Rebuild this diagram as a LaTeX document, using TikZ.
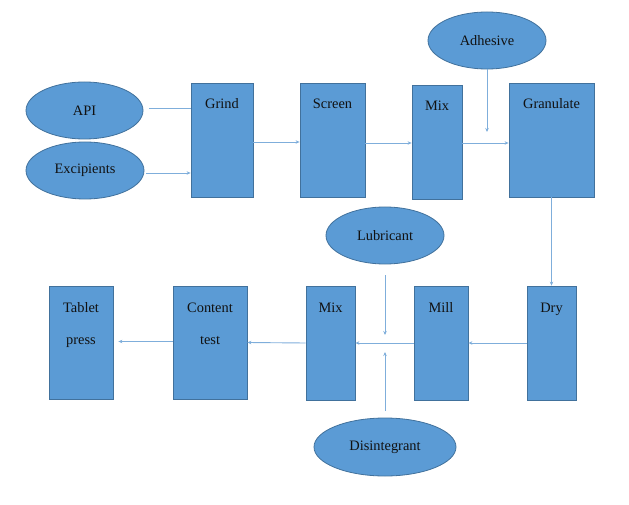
\documentclass[tikz,border=0pt]{standalone}
\usepackage{fontspec}
\setmainfont{Liberation Serif}
\usetikzlibrary{arrows.meta,calc,shapes.geometric}
\definecolor{boxfill}{HTML}{5B9BD5}
\definecolor{boxline}{HTML}{41719C}
\definecolor{arrcol}{HTML}{7FAEDB}
\definecolor{txt}{HTML}{111111}
\begin{document}
\begin{tikzpicture}[x=1bp,y=-1bp,
  box/.style={draw=boxline,fill=boxfill,line width=0.8bp,inner sep=0pt,rectangle},
  oval/.style={draw=boxline,fill=boxfill,line width=0.8bp,ellipse,inner sep=0pt,
    font=\fontsize{14.4bp}{17bp}\selectfont,text=txt},
  lbl/.style={font=\fontsize{14.4bp}{32bp}\selectfont,text=txt,align=center,inner sep=0pt},
  arr/.style={draw=arrcol,line width=0.9bp,-{Stealth[length=4bp,width=3.5bp]}},
  ln/.style={draw=arrcol,line width=0.9bp}]
\useasboundingbox (0,0) rectangle (629,505);
% ellipses
\node[oval,minimum width=117bp,minimum height=57bp] (api) at (84.5,110.5) {API};
\node[oval,minimum width=118bp,minimum height=57bp] (exc) at (85,170.5) {Excipients};
\node[oval,minimum width=118bp,minimum height=57bp] (adh) at (487,40.5) {Adhesive};
\node[oval,minimum width=118bp,minimum height=57bp] (lub) at (385,235.5) {Lubricant};
\node[oval,minimum width=142bp,minimum height=58bp] (dis) at (385,447) {Disintegrant};
% boxes
\node[box,minimum width=62bp,minimum height=114bp] (grind) at (222,140) {};
\node[box,minimum width=65bp,minimum height=114bp] (screen) at (332.5,140) {};
\node[box,minimum width=50bp,minimum height=114bp] (mixa) at (437,142) {};
\node[box,minimum width=85bp,minimum height=114bp] (gran) at (551.5,140) {};
\node[box,minimum width=49bp,minimum height=114bp] (dry) at (551.5,343) {};
\node[box,minimum width=54bp,minimum height=114bp] (mill) at (441,343) {};
\node[box,minimum width=49bp,minimum height=114bp] (mixb) at (330.5,343) {};
\node[box,minimum width=74bp,minimum height=113bp] (cont) at (210,342.5) {};
\node[box,minimum width=64bp,minimum height=113bp] (tab) at (81,342.5) {};
% box labels
\node[lbl,anchor=base] (tgrind) at (222,109) {Grind};
\node[lbl,anchor=base] (tscreen) at (332.5,109) {Screen};
\node[lbl,anchor=base] (tmixa) at (437,111) {Mix};
\node[lbl,anchor=base] (tgran) at (551.5,109) {Granulate};
\node[lbl,anchor=base] (tdry) at (551.5,312) {Dry};
\node[lbl,anchor=base] (tmill) at (441,312) {Mill};
\node[lbl,anchor=base] (tmixb) at (330.5,312) {Mix};
\node[lbl,anchor=base] (tcont1) at (210,312) {Content};
\node[lbl,anchor=base] (tcont2) at (210,344) {test};
\node[lbl,anchor=base] (ttab1) at (81,312) {Tablet};
\node[lbl,anchor=base] (ttab2) at (81,344) {press};
% free ends
\coordinate (apistart) at (149,108);
\coordinate (excstart) at (146,173);
\coordinate (adhend) at (487,132);
\coordinate (lubstart) at (385,275);
\coordinate (lubend) at (385,335);
\coordinate (disstart) at (385,411);
\coordinate (disend) at (385,352);
% connectors
\draw[ln] (apistart) -- (grind.west |- apistart);
\draw[arr] (excstart) -- (grind.west |- excstart);
\draw[arr] ($(grind.east)+(0,2)$) -- ($(screen.west)+(0,2)$);
\draw[arr] ($(screen.east)+(0,3)$) -- ($(mixa.west)+(0,1)$);
\draw[arr] ($(mixa.east)+(0,1)$) -- ($(gran.west)+(0,3)$);
\draw[arr] (adh.south) -- (adhend);
\draw[arr] (gran.south) -- (dry.north);
\draw[arr] (dry.west) -- (mill.east);
\draw[arr] (mill.west) -- (mixb.east);
\draw[arr] (lubstart) -- (lubend);
\draw[arr] (disstart) -- (disend);
\draw[arr] (mixb.west) -- (cont.east);
\draw[arr] ($(cont.west)+(0,-1)$) -- ($(tab.east)+(5,-1)$);
\end{tikzpicture}
\end{document}
